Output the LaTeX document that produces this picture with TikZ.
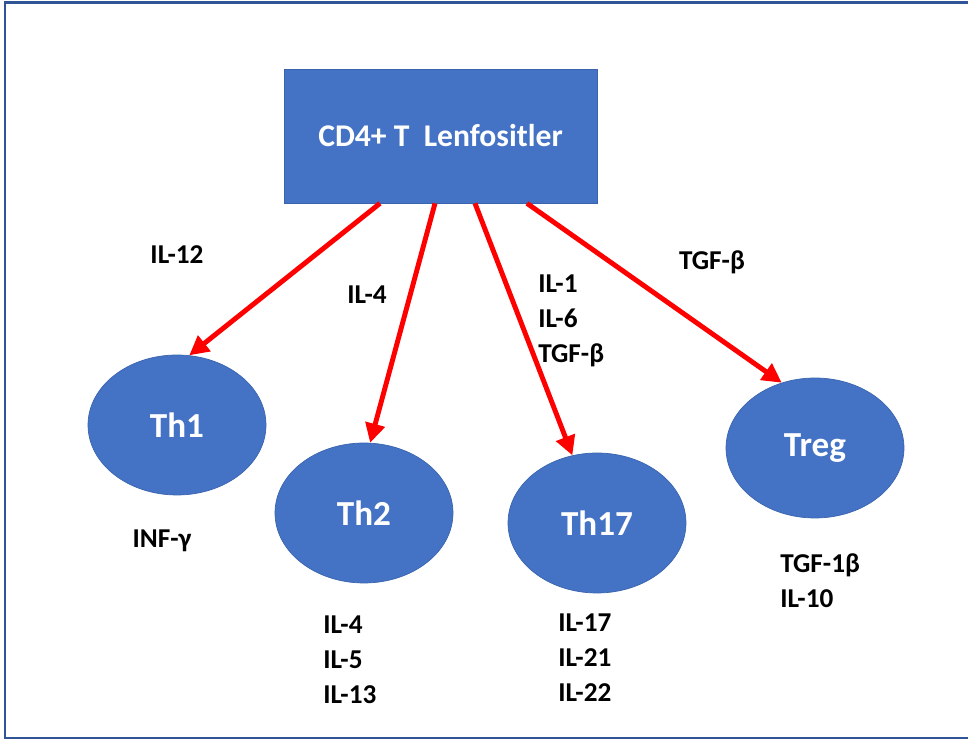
\documentclass[tikz,border=0pt]{standalone}
\usepackage{fontspec}
\setmainfont{Carlito}
\usepackage{tikz}
\usetikzlibrary{shapes.geometric,arrows.meta,positioning}

\definecolor{cellblue}{HTML}{4472C4}
\definecolor{celledge}{HTML}{3A64AE}
\definecolor{framecol}{HTML}{2F5597}

\begin{document}
\begin{tikzpicture}[
      x=0.02cm, y=-0.02cm,
      cell/.style={ellipse, fill=cellblue, draw=celledge, line width=0.4pt,
        minimum width=3.56cm, minimum height=2.8cm, inner sep=0pt,
        text=white, font=\bfseries\fontsize{20}{24}\selectfont},
      cyto/.style={font=\bfseries\fontsize{15.5}{20}\selectfont, align=left, inner sep=0pt},
      signal/.style={draw=red, line width=2.8pt, -{Triangle[length=11pt,width=11pt]}}
    ]
    \useasboundingbox (0,0) rectangle (968,742);
    \draw[framecol, line width=1.7pt] (5,3) rectangle (990,738);

    % naive T cell
    \node[rectangle, fill=cellblue, draw=celledge, line width=0.4pt,
      minimum width=6.26cm, minimum height=2.68cm, inner sep=0pt,
      text=white, font=\bfseries\fontsize{18}{22}\selectfont]
      (cd4) at (440.5,136) {CD4+ T\ \ Lenfositler};

    % subsets
    \node[cell] (th1) at (177,425) {Th1};
    \node[cell] (th2) at (364,513) {Th2};
    \node[cell] (th17) at (597,523) {Th17};
    \node[cell] (treg) at (815,448) {Treg};

    % differentiation
    \draw[signal] ([xshift=-1.21cm]cd4.south) -- (th1.80);
    \draw[signal] ([xshift=-0.11cm]cd4.south) -- (th2.85);
    \draw[signal] ([xshift=0.69cm]cd4.south) -- (th17.110);
    \draw[signal] ([xshift=1.73cm]cd4.south) -- (treg.117);

    % inducing cytokines
    \node[cyto] (in1) at (177,255) {IL-12};
    \node[cyto] (in2) at (367,295) {IL-4};
    \node[cyto, anchor=west] (in3) at (538,321) {IL-1\\IL-6\\TGF-β};
    \node[cyto] (in4) at (712,262) {TGF-β};

    % secreted cytokines
    \node[cyto] (out1) at (162,541) {INF-γ};
    \node[cyto, anchor=west] (out2) at (323,660) {IL-4\\IL-5\\IL-13};
    \node[cyto, anchor=west] (out3) at (558,658) {IL-17\\IL-21\\IL-22};
    \node[cyto, anchor=west] (out4) at (780,581) {TGF-1β\\IL-10};
  \end{tikzpicture}
\end{document}
